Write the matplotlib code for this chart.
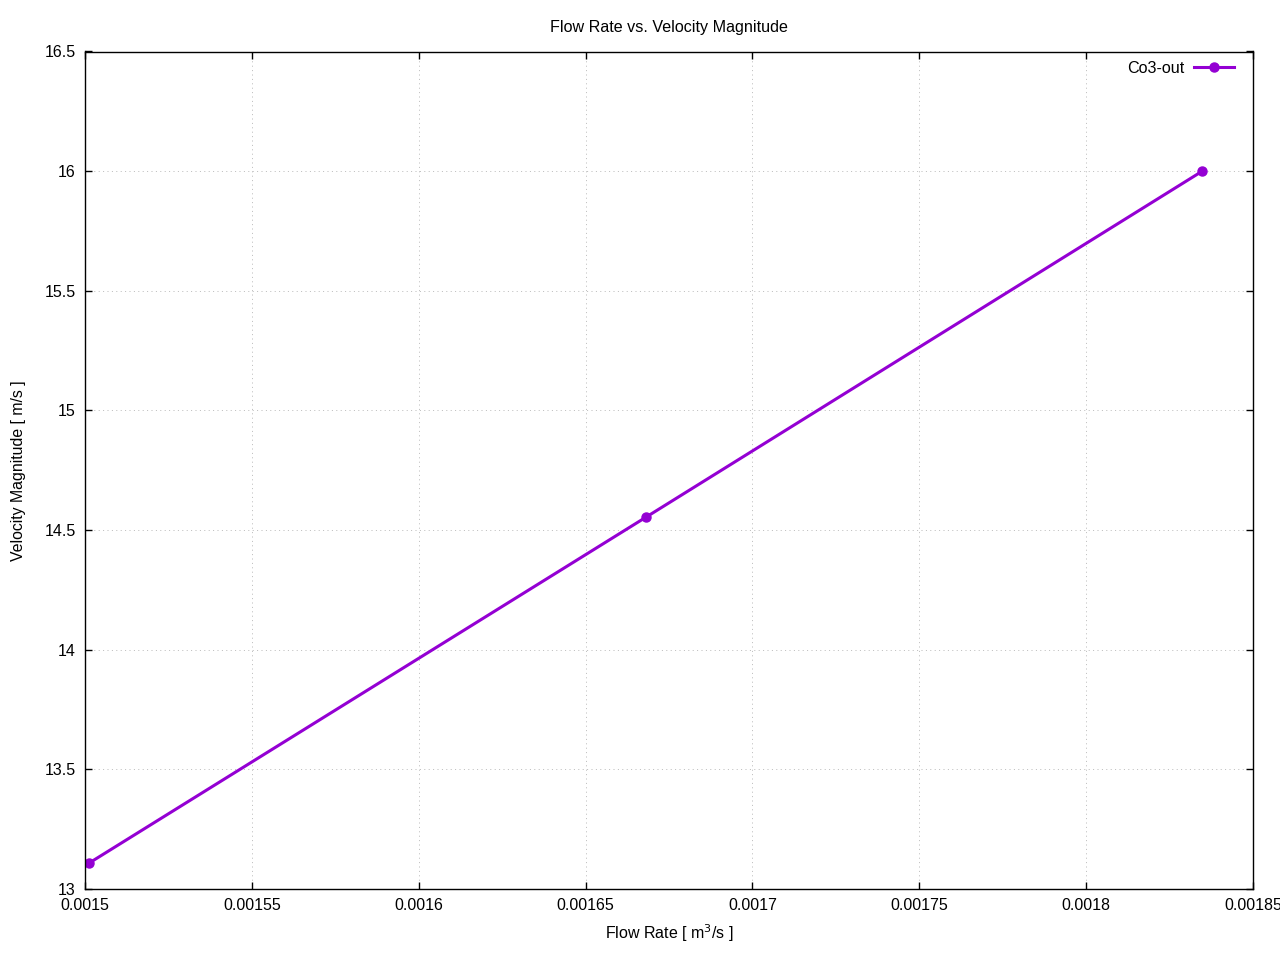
import matplotlib
matplotlib.use("Agg")
import matplotlib.pyplot as plt
from matplotlib.ticker import FixedLocator, FuncFormatter

plt.rcParams['font.family'] = ['Liberation Sans', 'DejaVu Sans']

flow_rate = [0.0015013, 0.001668, 0.0018348]
velocity = [13.109, 14.553, 16.0]
series_name = "Co3-out"
x_ticks = [0.0015, 0.00155, 0.0016, 0.00165, 0.0017, 0.00175, 0.0018, 0.00185]
y_ticks = [13, 13.5, 14, 14.5, 15, 15.5, 16, 16.5]

fig = plt.figure(figsize=(12.8, 9.6), dpi=100)
ax = fig.add_axes([85/1280, 1 - 889/960, (1253-85)/1280, (889-51.5)/960])

ax.plot(flow_rate, velocity, color='#9400D3', linewidth=2.2, marker='o',
        markersize=6.5, label=series_name)

ax.set_xlim(0.0015, 0.00185)
ax.set_ylim(13, 16.5)
ax.xaxis.set_major_locator(FixedLocator(x_ticks))
ax.yaxis.set_major_locator(FixedLocator(y_ticks))
ax.xaxis.set_major_formatter(FuncFormatter(lambda v, p: f"{v:g}"))
ax.yaxis.set_major_formatter(FuncFormatter(lambda v, p: f"{v:g}"))

ax.tick_params(direction='in', length=4.8, width=1, top=True, right=True,
               labelsize=11.5, colors='black')
ax.tick_params(axis='x', pad=6.7)
ax.tick_params(axis='y', pad=6.5)
for s in ax.spines.values():
    s.set_linewidth(1.0)
    s.set_color('black')

ax.grid(True, color='#bdbdbd', linestyle=(0, (1, 3.4)), linewidth=0.72)
ax.set_axisbelow(True)

ax.set_title("Flow Rate vs. Velocity Magnitude", fontsize=11.6, pad=14.2)
ax.set_xlabel("Flow Rate [ m$^3$/s ]", fontsize=11.5, labelpad=6.8)
ax.set_ylabel("Velocity Magnitude [ m/s ]", fontsize=11.4, labelpad=13.7)

leg = ax.legend(loc='upper right', frameon=False, markerfirst=False,
                fontsize=11.6, handlelength=2.47, borderaxespad=0,
                handletextpad=0.56, bbox_to_anchor=(0.9889, 0.9963))

fig.savefig("out.png", dpi=100)
